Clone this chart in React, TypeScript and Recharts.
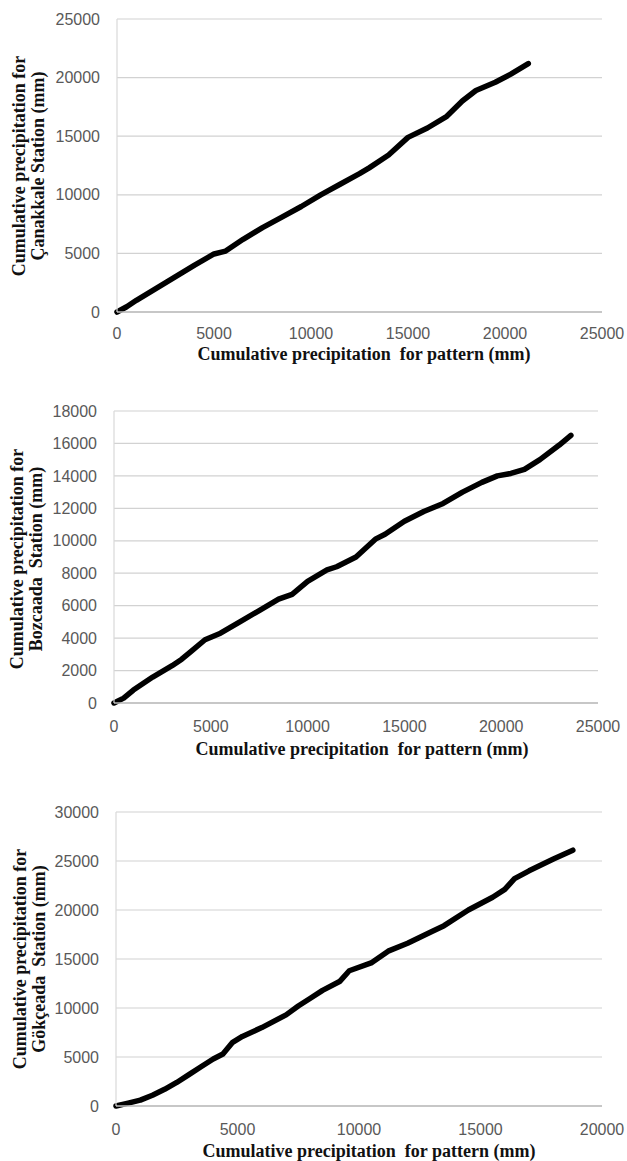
import React from "react";
import { LineChart, Line, XAxis, YAxis, CartesianGrid, Label } from "recharts";

// ---- Data ----
const canakkalePattern = [0, 500, 1000, 2000, 3000, 4000, 5000, 5600, 6500, 7500, 8500, 9500, 10500, 11500, 12500, 13000, 14000, 15000, 16000, 17000, 17800, 18500, 19500, 20300, 21200];
const canakkaleStation = [0, 450, 1000, 2000, 3000, 4000, 4950, 5200, 6200, 7200, 8100, 9000, 10000, 10900, 11800, 12300, 13400, 14900, 15700, 16700, 18000, 18900, 19600, 20300, 21200];

const bozcaadaPattern = [0, 500, 1000, 2000, 3000, 3500, 4000, 4700, 5500, 6500, 7500, 8500, 9200, 10000, 11000, 11500, 12500, 13500, 14000, 15000, 16000, 17000, 18000, 19000, 19800, 20500, 21200, 22000, 23000, 23600];
const bozcaadaStation = [0, 300, 800, 1600, 2300, 2700, 3200, 3900, 4300, 5000, 5700, 6400, 6700, 7500, 8200, 8400, 9000, 10100, 10400, 11200, 11800, 12300, 13000, 13600, 14000, 14150, 14400, 15000, 15900, 16500];

const gokceadaPattern = [0, 500, 1000, 1500, 2000, 2500, 3000, 3500, 4000, 4400, 4800, 5200, 6000, 7000, 7500, 8000, 8500, 9200, 9600, 10500, 11200, 12000, 13000, 13500, 14500, 15500, 16000, 16400, 17000, 18000, 18800];
const gokceadaStation = [0, 300, 600, 1100, 1700, 2400, 3200, 4000, 4800, 5300, 6500, 7100, 8000, 9300, 10200, 11000, 11800, 12700, 13800, 14600, 15800, 16600, 17800, 18400, 20000, 21300, 22100, 23200, 24000, 25200, 26100];

const xTicks25k = [0, 5000, 10000, 15000, 20000, 25000];
const xTicks20k = [0, 5000, 10000, 15000, 20000];
const yTicks25k = [0, 5000, 10000, 15000, 20000, 25000];
const yTicks18k = [0, 2000, 4000, 6000, 8000, 10000, 12000, 14000, 16000, 18000];
const yTicks30k = [0, 5000, 10000, 15000, 20000, 25000, 30000];

const xTitle = "Cumulative precipitation\u00a0 for pattern (mm)";
const yTitleLine1 = "Cumulative precipitation for";
const yTitleCanakkale = "Çanakkale Station (mm)";
const yTitleBozcaada = "Bozcaada\u00a0 Station (mm)";
const yTitleGokceada = "Gökçeada\u00a0 Station (mm)";

const zip = (xs: number[], ys: number[]) => xs.map((x, i) => ({ x, y: ys[i] }));

const TICK_STYLE = { fill: "#595959", fontSize: 16, fontFamily: "'Liberation Sans', Arial, sans-serif" };
const TITLE_FONT = "'Liberation Serif', 'Times New Roman', serif";

type PanelProps = {
  top: number;
  height: number;
  margin: { top: number; right: number; left: number; bottom: number };
  yAxisWidth: number;
  xAxisHeight: number;
  data: { x: number; y: number }[];
  xTicks: number[];
  yTicks: number[];
  xTickMargin: number;
  xTitlePos: { x: number; y: number };
  yTitlePos: { y: number; x1: number; x2: number };
  yLine2: string;
};

function Panel(p: PanelProps) {
  const xMax = p.xTicks[p.xTicks.length - 1];
  const yMax = p.yTicks[p.yTicks.length - 1];
  return (
    <div style={{ position: "absolute", left: 0, top: p.top, width: 627, height: p.height }}>
      <LineChart width={627} height={p.height} data={p.data} margin={p.margin}>
        <CartesianGrid vertical={false} stroke="#d2d2d2" strokeWidth={1.2} />
        <XAxis
          type="number"
          dataKey="x"
          domain={[0, xMax]}
          ticks={p.xTicks}
          interval={0}
          tickLine={false}
          axisLine={{ stroke: "#bdbdbd", strokeWidth: 1.5 }}
          tick={TICK_STYLE}
          tickMargin={p.xTickMargin}
          height={p.xAxisHeight}
        >
          <Label
            content={() => (
              <text
                x={p.xTitlePos.x}
                y={p.xTitlePos.y}
                textAnchor="middle"
                fontFamily={TITLE_FONT}
                fontWeight="bold"
                fontSize={18}
                fill="#111"
              >
                {xTitle}
              </text>
            )}
          />
        </XAxis>
        <YAxis
          type="number"
          dataKey="y"
          domain={[0, yMax]}
          ticks={p.yTicks}
          interval={0}
          tickLine={false}
          axisLine={{ stroke: "#d9d9d9", strokeWidth: 1.2 }}
          tick={TICK_STYLE}
          tickMargin={11}
          width={p.yAxisWidth}
        >
          <Label
            content={() => (
              <g fontFamily={TITLE_FONT} fontWeight="bold" fontSize={18} fill="#111">
                <text
                  x={p.yTitlePos.x1}
                  y={p.yTitlePos.y}
                  textAnchor="middle"
                  transform={`rotate(-90, ${p.yTitlePos.x1}, ${p.yTitlePos.y})`}
                >
                  {yTitleLine1}
                </text>
                <text
                  x={p.yTitlePos.x2}
                  y={p.yTitlePos.y}
                  textAnchor="middle"
                  transform={`rotate(-90, ${p.yTitlePos.x2}, ${p.yTitlePos.y})`}
                >
                  {p.yLine2}
                </text>
              </g>
            )}
          />
        </YAxis>
        <Line
          type="linear"
          dataKey="y"
          stroke="#000"
          strokeWidth={5.5}
          strokeLinecap="round"
          strokeLinejoin="round"
          dot={false}
          activeDot={false}
          isAnimationActive={false}
        />
      </LineChart>
    </div>
  );
}

export default function App() {
  return (
    <div style={{ position: "absolute", left: 0, top: 0, width: 627, height: 1161, background: "#fff" }}>
      <Panel
        top={0}
        height={370}
        margin={{ top: 19, right: 25, left: 0, bottom: 0 }}
        yAxisWidth={117}
        xAxisHeight={58}
        data={zip(canakkalePattern, canakkaleStation)}
        xTicks={xTicks25k}
        yTicks={yTicks25k}
        xTickMargin={10}
        xTitlePos={{ x: 364, y: 360 }}
        yTitlePos={{ y: 166, x1: 25, x2: 44 }}
        yLine2={yTitleCanakkale}
      />
      <Panel
        top={370}
        height={390}
        margin={{ top: 41, right: 29, left: 0, bottom: 0 }}
        yAxisWidth={114}
        xAxisHeight={57}
        data={zip(bozcaadaPattern, bozcaadaStation)}
        xTicks={xTicks25k}
        yTicks={yTicks18k}
        xTickMargin={12}
        xTitlePos={{ x: 362, y: 385 }}
        yTitlePos={{ y: 189, x1: 23, x2: 42 }}
        yLine2={yTitleBozcaada}
      />
      <Panel
        top={760}
        height={401}
        margin={{ top: 52, right: 25, left: 0, bottom: 0 }}
        yAxisWidth={116}
        xAxisHeight={55}
        data={zip(gokceadaPattern, gokceadaStation)}
        xTicks={xTicks20k}
        yTicks={yTicks30k}
        xTickMargin={12}
        xTitlePos={{ x: 369, y: 397 }}
        yTitlePos={{ y: 199, x1: 26, x2: 45 }}
        yLine2={yTitleGokceada}
      />
    </div>
  );
}
